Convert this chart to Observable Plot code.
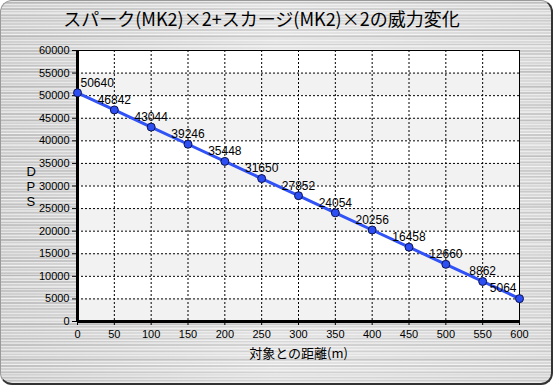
<!DOCTYPE html>
<html><head><meta charset="utf-8">
<script src="https://cdn.jsdelivr.net/npm/d3@7"></script>
<script src="https://cdn.jsdelivr.net/npm/@observablehq/plot@0.6"></script>
<style>
html,body{margin:0;padding:0;background:#fff;}
#wrap{position:relative;width:553px;height:385px;overflow:hidden;}
#bg{position:absolute;left:0;top:0;width:553px;height:385px;box-sizing:border-box;border-radius:12px;
 border:1px solid #9a9a9a;border-right:2px solid #333;border-bottom:2px solid #333;
 background-color:#dcdcdc;
 background-image:
  repeating-linear-gradient(180deg, rgba(255,255,255,0.5) 0 1px, transparent 1px 3px),
  repeating-linear-gradient(180deg, rgba(0,0,0,0.07) 0 2px, transparent 2px 7px),
  repeating-linear-gradient(180deg, rgba(255,255,255,0.35) 0 1px, transparent 1px 11px),
  repeating-linear-gradient(180deg, rgba(0,0,0,0.05) 0 3px, transparent 3px 17px),
  linear-gradient(90deg, #d0d0d0, #e4e4e4 50%, #d8d8d8);}
#title{position:absolute;left:0;top:5px;width:523px;text-align:center;font-family:"Noto Sans CJK JP";font-size:18px;color:#000;white-space:nowrap;}
#chart{position:absolute;left:0;top:0;}
</style>
</head><body>
<div id="wrap"><div id="bg"></div><div id="title"></div><div id="chart"></div></div>
<script>
const titleText = "スパーク(MK2)×2+スカージ(MK2)×2の威力変化";
const xLabel = "対象との距離(m)";
const yLabel = "D\nP\nS";
const distances = [0, 50, 100, 150, 200, 250, 300, 350, 400, 450, 500, 550, 600];
const dps = [50640, 46842, 43044, 39246, 35448, 31650, 27852, 24054, 20256, 16458, 12660, 8862, 5064];
const xTicks = [0, 50, 100, 150, 200, 250, 300, 350, 400, 450, 500, 550, 600];
const yTicks = [0, 5000, 10000, 15000, 20000, 25000, 30000, 35000, 40000, 45000, 50000, 55000, 60000];

document.getElementById("title").textContent = titleText;

const data = distances.map((d, i) => ({x: d, y: dps[i], i}));
const last = data.length - 1;
const bands = yTicks.filter((v, i) => i % 2 === 0 && i < yTicks.length - 1)
  .map(v => ({y1: v, y2: v + (yTicks[1] - yTicks[0]), x1: xTicks[0], x2: xTicks[xTicks.length - 1]}));

const chart = Plot.plot({
  width: 553, height: 385,
  marginLeft: 77, marginRight: 34, marginTop: 50, marginBottom: 64,
  style: {fontFamily: "Liberation Sans, Arial, sans-serif", fontSize: "11px", background: "transparent", color: "#000", overflow: "visible"},
  x: {domain: [0, 600]},
  y: {domain: [0, 60000]},
  marks: [
    Plot.frame({fill: "white", stroke: null}),
    Plot.rect(bands, {x1: "x1", x2: "x2", y1: "y1", y2: "y2", fill: "#f2f2f2"}),
    Plot.ruleX(xTicks.slice(1, -1), {stroke: "black", strokeWidth: 1, strokeDasharray: "2,2"}),
    Plot.ruleY(yTicks.slice(1, -1), {stroke: "black", strokeWidth: 1, strokeDasharray: "2,2"}),
    Plot.frame({stroke: "black", strokeWidth: 1}),
    Plot.ruleX([0], {stroke: "black", strokeWidth: 3}),
    Plot.ruleY([0], {stroke: "black", strokeWidth: 3}),
    Plot.axisX({ticks: xTicks, tickSize: 4, tickPadding: 5, tickFormat: d => String(d), label: null, fontSize: 11}),
    Plot.axisY({ticks: yTicks, tickSize: 5, tickPadding: 3, tickFormat: d => String(d), label: null, fontSize: 11}),
    Plot.line(data, {x: "x", y: "y", stroke: "#3052f7", strokeWidth: 3}),
    Plot.dot(data, {x: "x", y: "y", r: 4, fill: "#2c4ef2", stroke: "#0c1450", strokeWidth: 1}),
    Plot.text(data.filter(d => d.i === 0), {x: "x", y: "y", text: d => String(d.y), textAnchor: "start", dx: 3, dy: -10, fontSize: 12}),
    Plot.text(data.filter(d => d.i > 0 && d.i < last), {x: "x", y: "y", text: d => String(d.y), dy: -10, fontSize: 12}),
    Plot.text(data.filter(d => d.i === last), {x: "x", y: "y", text: d => String(d.y), textAnchor: "end", dx: -3, dy: -10, fontSize: 12}),
    Plot.text([xLabel], {frameAnchor: "bottom", dy: 36, fontFamily: "Noto Sans CJK JP", fontSize: 13}),
    Plot.text([yLabel], {frameAnchor: "left", dx: -51, fontSize: 13, lineHeight: 1.15})
  ]
});
document.getElementById("chart").appendChild(chart);
</script>
</body></html>
